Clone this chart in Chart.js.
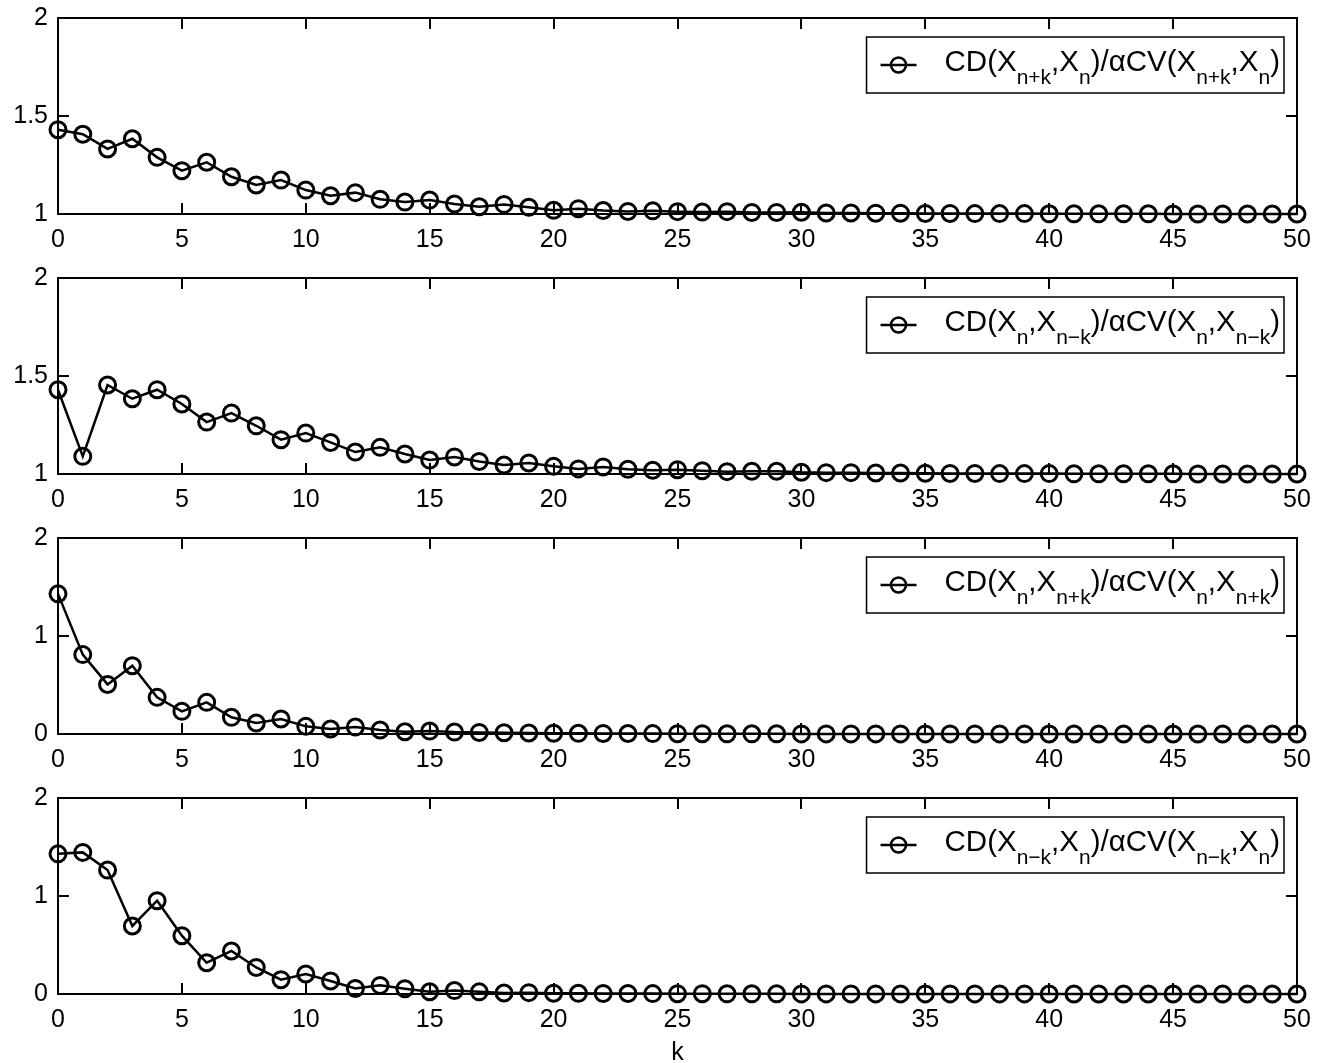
<!DOCTYPE html>
<html>
<head>
<meta charset="utf-8">
<title>CD / alpha CV ratios</title>
<script src="https://cdn.jsdelivr.net/npm/chart.js@4.4.0/dist/chart.umd.min.js"></script>
<style>
  body { margin: 0; background: #fff; }
  #wrap { position: relative; width: 1317px; height: 1063px; overflow: hidden; }
  .panel { position: absolute; left: 0; width: 1317px; }
</style>
</head>
<body>
<div id="wrap">
  <div class="panel" style="top:0;height:260px"><canvas id="c1"></canvas></div>
  <div class="panel" style="top:260px;height:260px"><canvas id="c2"></canvas></div>
  <div class="panel" style="top:520px;height:260px"><canvas id="c3"></canvas></div>
  <div class="panel" style="top:780px;height:283px"><canvas id="c4"></canvas></div>
</div>
<script>
// lag k
const kValues = [0, 1, 2, 3, 4, 5, 6, 7, 8, 9, 10, 11, 12, 13, 14, 15, 16, 17, 18, 19, 20,
  21, 22, 23, 24, 25, 26, 27, 28, 29, 30, 31, 32, 33, 34, 35, 36, 37, 38, 39, 40,
  41, 42, 43, 44, 45, 46, 47, 48, 49, 50];

// tick positions
const xTicks = [0, 5, 10, 15, 20, 25, 30, 35, 40, 45, 50];
const yTicksUpper = [1, 1.5, 2];
const yTicksLower = [0, 1, 2];

// CD(X_{n+k},X_n)/aCV(X_{n+k},X_n)
const ratioLead = [1.43, 1.407, 1.332, 1.384, 1.289, 1.221, 1.264, 1.19, 1.148, 1.173,
  1.122, 1.093, 1.109, 1.075, 1.061, 1.071, 1.051, 1.037, 1.049, 1.034,
  1.019, 1.027, 1.018, 1.013, 1.016, 1.012, 1.01, 1.012, 1.008, 1.008,
  1.009, 1.005, 1.005, 1.004, 1.004, 1.003, 1.003, 1.002, 1.002, 1.002,
  1.001, 1.001, 1.001, 1.001, 1.001, 1.0, 1.0, 1.0, 1.0, 1.0, 1.0];

// CD(X_n,X_{n-k})/aCV(X_n,X_{n-k})
const ratioLag = [1.43, 1.09, 1.454, 1.384, 1.43, 1.357, 1.265, 1.311, 1.246, 1.175,
  1.209, 1.161, 1.112, 1.136, 1.102, 1.071, 1.087, 1.064, 1.046, 1.056,
  1.039, 1.026, 1.036, 1.024, 1.019, 1.022, 1.017, 1.012, 1.014, 1.014,
  1.009, 1.007, 1.007, 1.005, 1.005, 1.004, 1.003, 1.003, 1.002, 1.002,
  1.002, 1.001, 1.001, 1.001, 1.001, 1.001, 1.0, 1.0, 1.0, 1.0, 1.0];

// CD(X_n,X_{n+k})/aCV(X_n,X_{n+k})
const ratioFwd = [1.43, 0.81, 0.506, 0.697, 0.374, 0.231, 0.323, 0.17, 0.112, 0.153,
  0.078, 0.051, 0.071, 0.041, 0.023, 0.03, 0.02, 0.016, 0.013, 0.01,
  0.008, 0.007, 0.006, 0.005, 0.004, 0.003, 0.003, 0.002, 0.002, 0.002,
  0.001, 0.001, 0.001, 0.001, 0.001, 0.001, 0.001, 0.001, 0.001, 0.001,
  0, 0, 0, 0, 0, 0, 0, 0, 0, 0, 0];

// CD(X_{n-k},X_n)/aCV(X_{n-k},X_n)
const ratioBack = [1.43, 1.445, 1.265, 0.694, 0.952, 0.595, 0.319, 0.439, 0.271, 0.146,
  0.204, 0.133, 0.057, 0.088, 0.054, 0.023, 0.035, 0.022, 0.01, 0.014,
  0.008, 0.007, 0.006, 0.005, 0.004, 0.003, 0.003, 0.002, 0.002, 0.002,
  0.001, 0.001, 0.001, 0.001, 0.001, 0.001, 0.001, 0.001, 0.001, 0.001,
  0, 0, 0, 0, 0, 0, 0, 0, 0, 0, 0];

// legend text pieces: [text, isSubscript]
const legendLead = [['CD(X', 0], ['n+k', 1], [',X', 0], ['n', 1], [')/αCV(X', 0], ['n+k', 1], [',X', 0], ['n', 1], [')', 0]];
const legendLag = [['CD(X', 0], ['n', 1], [',X', 0], ['n−k', 1], [')/αCV(X', 0], ['n', 1], [',X', 0], ['n−k', 1], [')', 0]];
const legendFwd = [['CD(X', 0], ['n', 1], [',X', 0], ['n+k', 1], [')/αCV(X', 0], ['n', 1], [',X', 0], ['n+k', 1], [')', 0]];
const legendBack = [['CD(X', 0], ['n−k', 1], [',X', 0], ['n', 1], [')/αCV(X', 0], ['n−k', 1], [',X', 0], ['n', 1], [')', 0]];

const FONT = '"Liberation Sans", Arial, Helvetica, sans-serif';
Chart.defaults.font.family = FONT;
Chart.defaults.color = '#000';

// box around the plot with inward tick marks on all four sides
const axesBox = {
  id: 'axesBox',
  beforeDatasetsDraw(chart) {
    const { ctx, chartArea: a, scales } = chart;
    const len = 11;
    ctx.save();
    ctx.strokeStyle = '#000';
    ctx.lineWidth = 2;
    ctx.beginPath();
    scales.x.ticks.forEach(t => {
      const px = Math.round(scales.x.getPixelForValue(t.value));
      ctx.moveTo(px, a.bottom); ctx.lineTo(px, a.bottom - len);
      ctx.moveTo(px, a.top); ctx.lineTo(px, a.top + len);
    });
    scales.y.ticks.forEach(t => {
      const py = Math.round(scales.y.getPixelForValue(t.value));
      ctx.moveTo(a.left, py); ctx.lineTo(a.left + len, py);
      ctx.moveTo(a.right, py); ctx.lineTo(a.right - len, py);
    });
    ctx.stroke();
    ctx.strokeRect(a.left, a.top, a.right - a.left, a.bottom - a.top);
    ctx.restore();
  }
};

// legend box with subscripted label
const subLegend = {
  id: 'subLegend',
  afterDraw(chart, args, opts) {
    const { ctx, chartArea: a } = chart;
    const parts = opts.parts || [];
    const mainFont = '29.5px ' + FONT;
    const subFont = '21px ' + FONT;
    ctx.save();
    let textW = 0;
    parts.forEach(([s, sub]) => {
      ctx.font = sub ? subFont : mainFont;
      textW += ctx.measureText(s).width;
    });
    const h = 56;
    const w = 78 + textW + 4;
    const x0 = a.right - 13 - w;
    const y0 = a.top + 19;
    ctx.fillStyle = '#fff';
    ctx.fillRect(x0, y0, w, h);
    ctx.strokeStyle = '#000';
    ctx.lineWidth = 1.5;
    ctx.strokeRect(x0, y0, w, h);

    // line sample with circle marker
    const cy = y0 + h / 2;
    ctx.lineWidth = 2.5;
    ctx.beginPath();
    ctx.moveTo(x0 + 14, cy); ctx.lineTo(x0 + 50, cy);
    ctx.stroke();
    ctx.beginPath();
    ctx.arc(x0 + 32, cy, 7.5, 0, Math.PI * 2);
    ctx.stroke();

    // text
    ctx.fillStyle = '#000';
    ctx.textBaseline = 'alphabetic';
    let tx = x0 + 78;
    const base = y0 + 34;
    parts.forEach(([s, sub]) => {
      ctx.font = sub ? subFont : mainFont;
      ctx.fillText(s, tx, sub ? base + 13 : base);
      tx += ctx.measureText(s).width;
    });
    ctx.restore();
  }
};

function makePanel(id, values, yMin, yMax, yTickList, parts, withTitle) {
  const points = kValues.map((k, i) => ({ x: k, y: values[i] }));
  return new Chart(document.getElementById(id), {
    type: 'line',
    data: {
      datasets: [{
        data: points,
        borderColor: '#000',
        borderWidth: 2.5,
        pointStyle: 'circle',
        pointRadius: 8,
        pointBorderWidth: 3,
        pointBorderColor: '#000',
        pointBackgroundColor: 'rgba(0,0,0,0)',
        tension: 0,
        clip: false
      }]
    },
    options: {
      responsive: true,
      maintainAspectRatio: false,
      animation: false,
      events: [],
      layout: { padding: { top: 18, right: 20, left: 0, bottom: 0 } },
      plugins: {
        legend: { display: false },
        tooltip: { enabled: false },
        subLegend: { parts: parts }
      },
      scales: {
        x: {
          type: 'linear',
          min: 0,
          max: 50,
          afterBuildTicks: s => { s.ticks = xTicks.map(v => ({ value: v })); },
          afterFit: s => {
            s.height = withTitle ? 69 : 46;
            s.paddingLeft = 0;
            s.paddingRight = 0;
          },
          ticks: { font: { size: 25 }, padding: 11, maxRotation: 0, autoSkip: false, callback: v => String(v) },
          grid: { display: false, drawTicks: false },
          border: { display: false },
          title: {
            display: withTitle,
            text: 'k',
            font: { size: 25 },
            padding: { top: 0, bottom: -5 }
          }
        },
        y: {
          type: 'linear',
          min: yMin,
          max: yMax,
          afterBuildTicks: s => { s.ticks = yTickList.map(v => ({ value: v })); },
          afterFit: s => {
            s.width = 58;
            s.paddingTop = 0;
            s.paddingBottom = 0;
          },
          ticks: { font: { size: 25 }, padding: 10, callback: v => String(v) },
          grid: { display: false, drawTicks: false },
          border: { display: false }
        }
      }
    },
    plugins: [axesBox, subLegend]
  });
}

makePanel('c1', ratioLead, 1, 2, yTicksUpper, legendLead, false);
makePanel('c2', ratioLag, 1, 2, yTicksUpper, legendLag, false);
makePanel('c3', ratioFwd, 0, 2, yTicksLower, legendFwd, false);
makePanel('c4', ratioBack, 0, 2, yTicksLower, legendBack, true);
</script>
</body>
</html>
